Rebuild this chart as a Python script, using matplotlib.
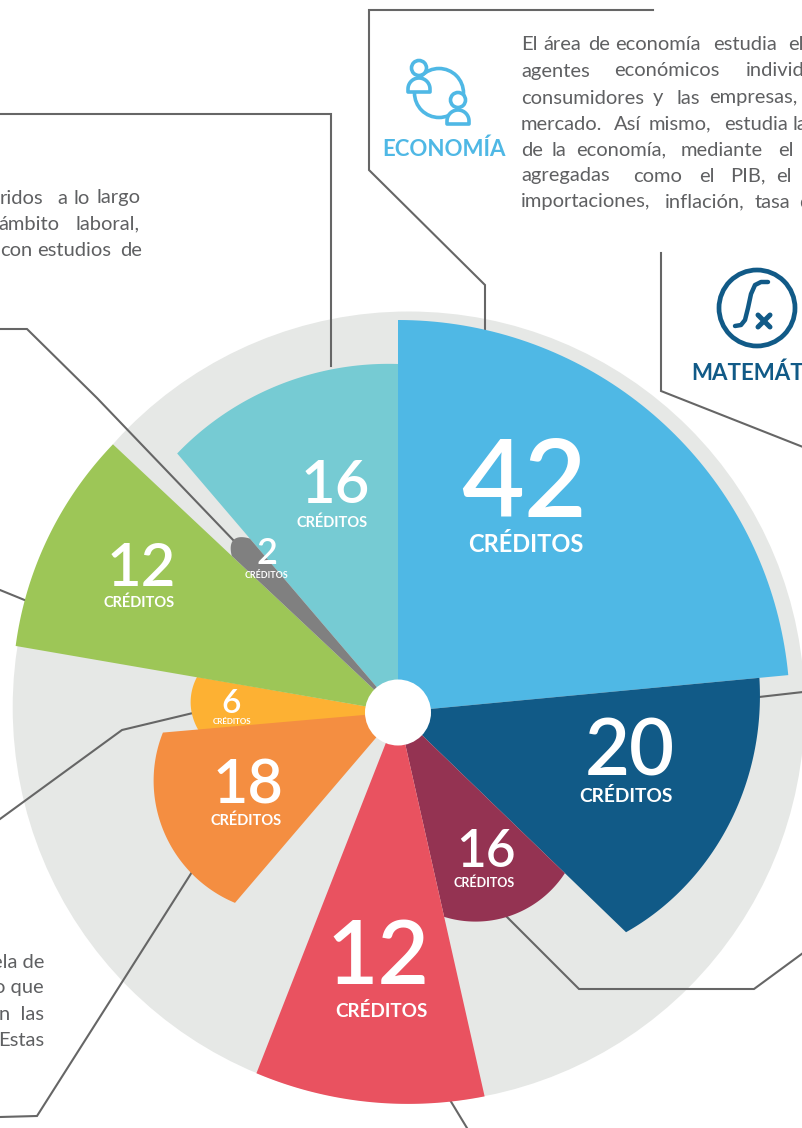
import numpy as np
import matplotlib
matplotlib.use("Agg")
import matplotlib.pyplot as plt
from matplotlib.patches import Circle, Polygon

# chart values, clockwise from the top
credits = [42, 20, 16, 12, 6, 18, 12, 2, 16]
colors = ["#4FB8E5", "#115A87", "#943352", "#E95260", "#FDB133", "#F48E41", "#9DC657", "#808080", "#76CBD3"]
ang_start = [0, 84.6, 134, 167.3, 262, 220.5, 279.8, 313.2, 319.5]
ang_end = [84.6, 134, 167.3, 201.4, 279.9, 265, 313.2, 319.5, 360]
r_start = [392, 363, 232, 394, 195, 251, 388, 228, 340]
r_mid = [392, 349, 233, 391, 207, 263, 391, 238, 348]
r_end = [392, 317, 210, 388, 204, 236, 391, 228, 348]
# label centres in pixels and sizes
label_x = [524, 630, 486, 378, 231, 248, 141, 267, 335]
label_y = [486, 753, 852.5, 958, 704, 785, 569, 553.5, 486]
num_size = [78, 56, 37, 64, 24, 44, 43, 26, 43]
cap_x = [526, 626, 484, 381, 232, 246, 139, 267, 332]
cap_y = [545, 796, 883, 1011, 721, 821, 603, 575, 523]
cap_size = [17, 13.8, 9, 13.6, 5.8, 10.5, 10.5, 6.4, 10.5]

CX, CY = 398, 712
LINE = "#666666"
TEXT = "#5F6062"
FONT = "Lato"

fig = plt.figure(figsize=(8.03, 11.28), dpi=100)
ax = fig.add_axes([0, 0, 1, 1])
ax.set_xlim(0, 803)
ax.set_ylim(1128, 0)
ax.axis("off")


def polar_xy(angle, r):
    a = np.radians(angle)
    return CX + r * np.sin(a), CY - r * np.cos(a)


def petal(a0, a1, r0, r1, r2, color):
    # wedge with apex in the centre and a slightly off-centre outer arc
    t = np.linspace(0, 1, 80)
    r = r0 * (1 - t) * (1 - 2 * t) + r1 * 4 * t * (1 - t) + r2 * t * (2 * t - 1)
    x, y = polar_xy(a0 + (a1 - a0) * t, r)
    pts = np.column_stack([np.r_[CX, x], np.r_[CY, y]])
    ax.add_patch(Polygon(pts, closed=True, fc=color, ec="none", zorder=3))


def person(px, py, color):
    ax.add_patch(Circle((px, py), 7.5, fc="white", ec=color, lw=2.6, zorder=6))
    t = np.linspace(np.pi, 2 * np.pi, 30)
    x = px + 11 * np.cos(t)
    y = py + 21 + 11 * np.sin(t)
    pts = np.column_stack([np.r_[px - 11, x, px + 11], np.r_[py + 24, y, py + 24]])
    ax.add_patch(Polygon(pts, closed=True, fc="white", ec=color, lw=2.6, zorder=6, joinstyle="round"))


ax.add_patch(Circle((408.7, 707.5), 396, fc="#E6E8E6", ec="none", zorder=1))

# leader lines
leaders = [
    [(653, 10), (369, 10), (369, 170), (485, 285), (485, 330)],
    [(0, 114), (331, 114), (331, 366)],
    [(0, 329), (27, 329), (97, 398), (236, 543)],
    [(0, 590), (27, 601)],
    [(0, 819), (122, 730), (193, 713)],
    [(0, 1117), (37, 1116), (192, 872)],
    [(450, 1100), (467, 1128)],
    [(506, 916), (579, 989), (754, 989), (803, 953)],
    [(759, 697), (803, 692)],
    [(661, 253), (661, 391), (803, 447)],
]
for pts in leaders:
    xs, ys = zip(*pts)
    ax.plot(xs, ys, color=LINE, lw=1.5, zorder=2, solid_joinstyle="miter")

for i in [4, 0, 1, 2, 3, 5, 6, 8, 7]:
    petal(ang_start[i], ang_end[i], r_start[i], r_mid[i], r_end[i], colors[i])

ax.add_patch(Circle((CX, CY + 0.5), 33, fc="white", ec="none", zorder=4))

for i, c in enumerate(credits):
    ax.text(label_x[i], label_y[i], str(c), color="white", fontsize=num_size[i], family=FONT,
            weight="semibold", ha="center", va="center", zorder=5)
    ax.text(cap_x[i], cap_y[i], "CRÉDITOS", color="white", fontsize=cap_size[i],
            family=FONT, weight="bold", ha="center", va="center", zorder=5)

# body text, word by word because the original is justified
body_lines = [
    (45, [(521, "El"), (543, "área"), (588, "de"), (615, "economía"), (713, "estudia"), (788, "el")]),
    (71, [(521, "agentes"), (614, "económicos"), (746, "individuos")]),
    (98, [(521, "consumidores"), (653, "y"), (677, "las"), (709, "empresas,")]),
    (124, [(521, "mercado."), (614, "Así"), (649, "mismo,"), (724, "estudia"), (793, "la")]),
    (150, [(521, "de"), (552, "la"), (576, "economía,"), (681, "mediante"), (778, "el")]),
    (176, [(521, "agregadas"), (633, "como"), (699, "el"), (730, "PIB,"), (776, "el")]),
    (202, [(521, "importaciones,"), (665, "inflación,"), (755, "tasa"), (799, "de")]),
    (198, [(0, "ridos"), (57, "a"), (74, "lo"), (97, "largo")]),
    (224, [(-2, "ámbito"), (76, "laboral,")]),
    (250, [(0, "con"), (37, "estudios"), (120, "de")]),
]
for y, words in body_lines:
    for x, w in words:
        ax.text(x, y, w, color=TEXT, fontsize=14.5, family=FONT, va="center", zorder=5, clip_on=True)

right_lines = [
    (44, 962, "ela de"),
    (44, 988, "o que"),
    (44, 1014, "n  las"),
    (44, 1041, "Estas"),
]
for x, y, s in right_lines:
    ax.text(x, y, s, color=TEXT, fontsize=14.5, family=FONT, ha="right", va="center", zorder=5)

# economia icon
BLUE = "#4FB8E5"
ax.text(444.5, 149, "ECONOMÍA", color=BLUE, fontsize=16, family=FONT, weight="bold", ha="center", va="center")
ax.add_patch(Circle((439, 93), 24.5, fc="none", ec=BLUE, lw=2.6, zorder=5))
person(419, 68, BLUE)
person(458, 100, BLUE)

# matematicas icon
NAVY = "#115A87"
ax.add_patch(Circle((757, 308), 38, fc="none", ec=NAVY, lw=3.4, zorder=5))
fx = [735, 741, 745, 748, 751, 755, 761, 768]
fy = [326, 325, 320, 308, 294, 285, 282, 282]
ax.plot(fx, fy, color=NAVY, lw=3.2, solid_capstyle="round", zorder=6)
ax.plot([758, 770], [315, 327], color=NAVY, lw=3.6, solid_capstyle="round", zorder=6)
ax.plot([770, 758], [315, 327], color=NAVY, lw=3.6, solid_capstyle="round", zorder=6)
ax.text(691, 373, "MATEMÁTICAS", color=NAVY, fontsize=16, family=FONT, weight="bold", ha="left", va="center")

fig.savefig("out.png", dpi=100)
